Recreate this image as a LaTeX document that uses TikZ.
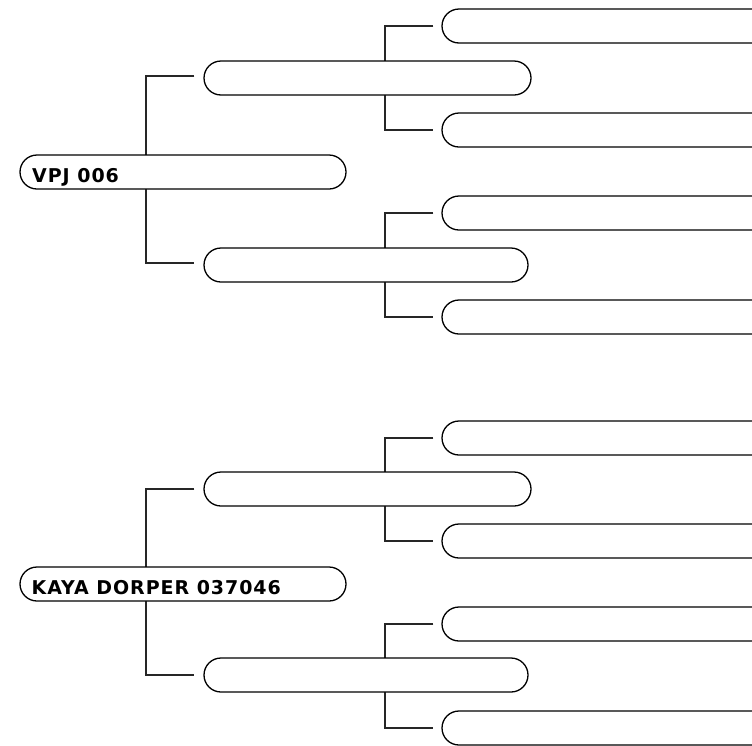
\documentclass[tikz,border=0pt]{standalone}
\usepackage{fontspec}
\newfontfamily\lblfont[LetterSpace=5]{DejaVu Sans}
\usetikzlibrary{backgrounds}
\begin{document}
\begin{tikzpicture}[x=1pt,y=-1pt,
  pill/.style={draw=black, line width=1.3pt, fill=white, rounded corners=17pt,
    minimum height=34pt, inner sep=0pt},
  link/.style={draw=black!85, line width=1.2pt},
  lbl/.style={font=\lblfont\bfseries\fontsize{19}{21}\selectfont, inner sep=0pt, anchor=base west}]
\clip (0,0) rectangle (752,745);
% generation 0
\node[pill, minimum width=326pt] (A) at (183,172) {};
\node[pill, minimum width=326pt] (B) at (183,584) {};
\node[lbl] (At) at (32,182.5) {VPJ 006};
\node[lbl] (Bt) at (31.5,594.5) {KAYA DORPER 037046};
% generation 1
\node[pill, minimum width=327pt] (A1) at (367.5,78) {};
\node[pill, minimum width=324pt] (A2) at (366,265) {};
\node[pill, minimum width=327pt] (B1) at (367.5,489) {};
\node[pill, minimum width=324pt] (B2) at (366,675) {};
% generation 2
\foreach \n/\y in {A11/26,A12/130,A21/213,A22/317,B11/438,B12/541,B21/624,B22/728}
  \node[pill, minimum width=400pt] (\n) at (642,\y) {};
% connectors
\coordinate (jA) at (146,172);
\coordinate (jB) at (146,584);
\coordinate (jA1) at (385,78);
\coordinate (jA2) at (385,265);
\coordinate (jB1) at (385,489);
\coordinate (jB2) at (385,675);
\begin{scope}[on background layer]
\fill[white] (0,0) rectangle (752,745);
\draw[link] ([xshift=-9pt,yshift=2pt]A1.west) -| (jA) |- ([xshift=-9pt,yshift=2pt]A2.west);
\draw[link] ([xshift=-9pt]B1.west) -| (jB) |- ([xshift=-9pt]B2.west);
\draw[link] ([xshift=-8pt]A11.west) -| (jA1) |- ([xshift=-8pt]A12.west);
\draw[link] ([xshift=-8pt]A21.west) -| (jA2) |- ([xshift=-8pt]A22.west);
\draw[link] ([xshift=-8pt]B11.west) -| (jB1) |- ([xshift=-8pt]B12.west);
\draw[link] ([xshift=-8pt]B21.west) -| (jB2) |- ([xshift=-8pt]B22.west);
\end{scope}
\end{tikzpicture}
\end{document}
